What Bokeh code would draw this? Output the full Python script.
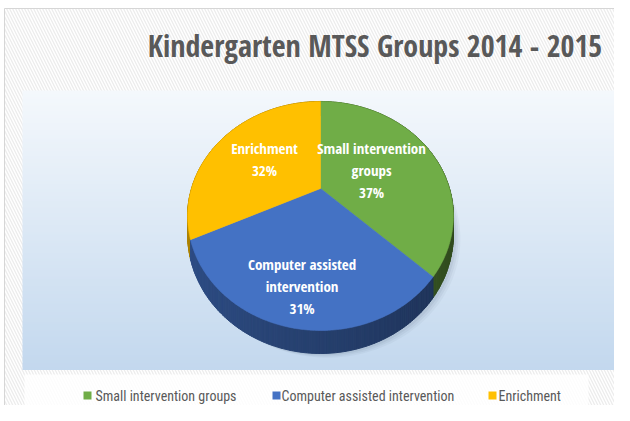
import numpy as np
from bokeh.plotting import figure
from bokeh.models import Range1d
from bokeh.core.properties import value
from bokeh.embed import file_html
from bokeh.resources import INLINE

# ---------------- data ----------------
title = "Kindergarten MTSS Groups 2014 - 2015"
categories = ["Small intervention groups", "Computer assisted intervention", "Enrichment"]
shares = [37, 31, 32]
slice_label_lines = [["Small intervention", "groups", "37%"],
                     ["Computer assisted", "intervention", "31%"],
                     ["Enrichment", "32%"]]
colors = ["#70ad47", "#4472c4", "#ffc000"]

# ---------------- styles / layout ----------------
FONT = value("Open Sans Condensed")
LEG_FONT = value("Roboto Condensed")
W, H = 614, 405
X0, Y0 = 0, 0
label_r = [0.45, 0.75, 0.55]

# 3D pie projection (screen units)
CX, CY = 320.0, 188.0
AX, BY = 129.0, 107.9
K = 0.24
DEPTH = 17.5


def proj(u, v, dz=0.0):
    s = 1.0 / (1.0 - K * v)
    return CX + AX * u * s, CY + BY * v * s + dz * s


def shade(hex_color, f):
    h = hex_color.lstrip("#")
    r, g, b = (int(h[i:i + 2], 16) for i in (0, 2, 4))
    return "#%02x%02x%02x" % (int(r * f), int(g * f), int(b * f))


def mix(c1, c2, t):
    a = [int(c1[i:i + 2], 16) for i in (1, 3, 5)]
    b = [int(c2[i:i + 2], 16) for i in (1, 3, 5)]
    return "#%02x%02x%02x" % tuple(int(round(a[i] + (b[i] - a[i]) * t)) for i in range(3))


p = figure(width=W, height=H, x_range=Range1d(X0, X0 + W), y_range=Range1d(Y0 + H, Y0),
           output_backend="svg", toolbar_location=None, min_border=0,
           x_axis_location=None, y_axis_location=None)
p.grid.visible = False
p.outline_line_color = None
p.background_fill_color = "white"
p.border_fill_color = "white"

# chart area with diagonal hatch
p.quad(left=4, right=X0 + W + 5, top=8, bottom=Y0 + H + 5, fill_color="white", line_color="#d6d6d6",
       line_width=1, hatch_pattern="\\", hatch_color="#ececec", hatch_scale=6, hatch_weight=1.3)

# plot area vertical gradient
ys = np.linspace(90, 369, 94)
grad_top, grad_bot = "#f4f8fc", "#c3d8ee"
p.quad(left=22, right=617, top=ys[:-1], bottom=ys[1:] + 0.4,
       fill_color=[mix(grad_top, grad_bot, t) for t in np.linspace(0, 1, len(ys) - 1)],
       line_color=None)

# legend box
p.quad(left=24, right=588, top=374, bottom=409, fill_color="white", fill_alpha=0.85, line_color=None)

# ---------------- pie ----------------
fr = np.cumsum([0] + shares) / float(sum(shares))
N = 120

# soft shadow
tt = np.linspace(0, 2 * np.pi, 200)
us, vs = np.sin(tt), -np.cos(tt)
for off, al in [(7, 0.05), (5, 0.07), (3, 0.09)]:
    sx, sy = proj(us, vs, DEPTH)
    p.patch(sx + off, sy + off * 0.6, fill_color="#50607a", fill_alpha=al, line_color=None)

# sides
side_xs, side_ys, side_cols, side_v = [], [], [], []
for i in range(len(shares)):
    th = np.linspace(2 * np.pi * fr[i], 2 * np.pi * fr[i + 1], N)
    u, v = np.sin(th), -np.cos(th)
    tx, ty = proj(u, v)
    bx, by = proj(u, v, DEPTH)
    for j in range(N - 1):
        side_xs.append([tx[j], tx[j + 1], bx[j + 1], bx[j]])
        side_ys.append([ty[j], ty[j + 1], by[j + 1], by[j]])
        um = 0.5 * (u[j] + u[j + 1])
        side_cols.append(shade(colors[i], 0.56 - 0.13 * um))
        side_v.append(0.5 * (v[j] + v[j + 1]))
order = np.argsort(side_v)
p.patches([side_xs[o] for o in order], [side_ys[o] for o in order],
          fill_color=[side_cols[o] for o in order], line_color=[side_cols[o] for o in order],
          line_width=1.0)

# top faces
top_xs, top_ys = [], []
for i in range(len(shares)):
    th = np.linspace(2 * np.pi * fr[i], 2 * np.pi * fr[i + 1], N)
    tx, ty = proj(np.sin(th), -np.cos(th))
    top_xs.append([CX] + list(tx))
    top_ys.append([CY] + list(ty))
p.patches(top_xs, top_ys, fill_color=colors, line_color=colors, line_width=0.6)

# slice labels
lx, ly, lt = [], [], []
for i, lines in enumerate(slice_label_lines):
    th = 2 * np.pi * 0.5 * (fr[i] + fr[i + 1])
    ax, ay = proj(label_r[i] * np.sin(th), -label_r[i] * np.cos(th))
    n = len(lines)
    for k, s in enumerate(lines):
        lx.append(ax)
        ly.append(ay + (k - (n - 1) / 2.0) * 22)
        lt.append(s)
p.text(lx, ly, text=lt, text_font=FONT, text_font_style="bold", text_font_size="15px",
       text_color="white", text_align="center", text_baseline="middle")

# title
p.text([374.5], [45], text=[title], text_font=FONT, text_font_style="bold",
       text_font_size="30px", text_color="#595959", text_align="center", text_baseline="middle")

# legend
leg_y = 395
leg_sq_x = [87, 276, 492]
leg_tx_x = [95, 281, 498]
p.rect(leg_sq_x, [leg_y] * 3, width=8, height=8, fill_color=colors, line_color=None)
p.text(leg_tx_x, [leg_y] * 3, text=categories, text_font=LEG_FONT, text_font_size="14px",
       text_color="#595959", text_align="left", text_baseline="middle")

open("out.html", "w").write(file_html(p, INLINE))
